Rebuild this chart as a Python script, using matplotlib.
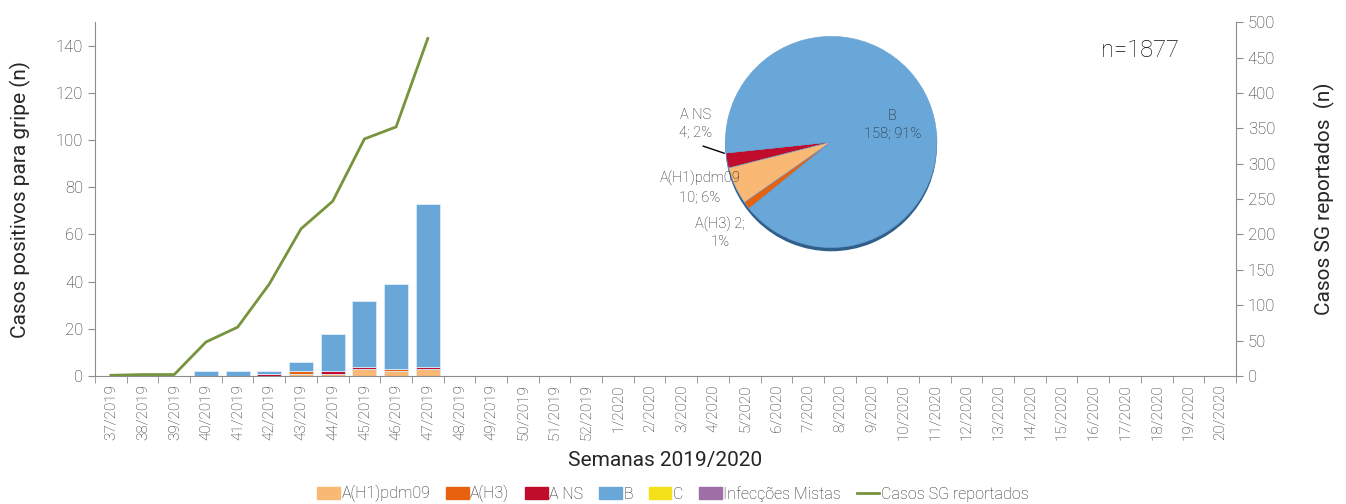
import matplotlib
matplotlib.use('Agg')
import matplotlib.pyplot as plt
from matplotlib.patches import Patch
from matplotlib.lines import Line2D
import numpy as np

plt.rcParams['font.family'] = ['Roboto', 'DejaVu Sans']
plt.rcParams['font.weight'] = 'light'

# --- data ---
semanas = [f'{w}/2019' for w in range(37, 53)] + [f'{w}/2020' for w in range(1, 21)]
ah1 = [0, 0, 0, 0, 0, 0, 1, 1, 3, 2, 3]
ah3 = [0, 0, 0, 0, 0, 0, 1, 0, 0, 1, 0]
ans = [0, 0, 0, 0, 0, 1, 0, 1, 1, 0, 1]
b   = [0, 0, 0, 2, 2, 1, 4, 16, 28, 36, 69]
c   = [0] * 11
mistas = [0] * 11
casos_sg = [1, 2, 2, 48, 69, 130, 208, 247, 335, 352, 477]

pie_labels = ['A NS', 'A(H1)pdm09', 'A(H3)', 'B']
pie_vals = [4, 10, 2, 158]
n_total = 1877

col_ah1 = '#F9B873'
col_ah3 = '#E8610F'
col_ans = '#C00D2B'
col_b = '#69A7D8'
col_c = '#F2E11B'
col_mix = '#9E6FA6'
col_line = '#77933C'
grey = '#8C8C8C'
txt = '#262626'

fig = plt.figure(figsize=(13.46, 5.04), dpi=100)
ax = fig.add_axes([0.0706, 0.254, 0.8476, 0.702])

n = len(ah1)
x = np.arange(n)
bottom = np.zeros(n)
for vals, col in [(ah1, col_ah1), (ah3, col_ah3), (ans, col_ans), (b, col_b), (c, col_c), (mistas, col_mix)]:
    v = np.array(vals, dtype=float)
    ax.bar(x, v, 0.76, bottom=bottom, color=col, edgecolor='#DCEAF5', linewidth=0.6, zorder=2)
    bottom += v

ax.set_xlim(-0.5, len(semanas) - 0.5)
ax.set_ylim(0, 150)
ax.set_yticks(range(0, 141, 20))
ax.set_xticks(np.arange(len(semanas)))
ax.set_xticklabels(semanas, rotation=90, fontsize=11, color=txt)
ax.set_xticks(np.arange(-0.5, len(semanas)), minor=True)
ax.tick_params(axis='x', which='major', length=0, pad=6)
ax.tick_params(axis='x', which='minor', length=5, color=grey)
ax.tick_params(axis='y', labelsize=12, colors=txt, length=5, color=grey)
for s in ['top', 'right']:
    ax.spines[s].set_visible(False)
for s in ['left', 'bottom']:
    ax.spines[s].set_color(grey)
ax.set_ylabel('Casos positivos para gripe (n)', fontsize=15, color=txt, labelpad=18)
ax.set_xlabel('Semanas 2019/2020', fontsize=15, color=txt, labelpad=8)

ax2 = ax.twinx()
ax2.plot(x, casos_sg, color=col_line, linewidth=2, zorder=3)
ax2.set_ylim(0, 500)
ax2.set_yticks(range(0, 501, 50))
ax2.tick_params(axis='y', labelsize=12, colors=txt, length=5, color=grey)
for s in ['top', 'left', 'bottom']:
    ax2.spines[s].set_visible(False)
ax2.spines['right'].set_color(grey)
ax2.set_ylabel('Casos SG reportados  (n)', fontsize=15, color=txt, labelpad=28)

fig.text(0.847, 0.9, f'n={n_total}', fontsize=17, color='#111111', ha='center', va='center')

# pie inset
pax = fig.add_axes([0.535, 0.492, 0.1650, 0.4400])
pax.pie([sum(pie_vals)], colors=['#2F5F8A'], radius=1.0, center=(0, -0.035),
        wedgeprops=dict(linewidth=0))
pax.pie(pie_vals, colors=[col_ans, col_ah1, col_ah3, col_b], startangle=186,
        counterclock=True, radius=1.0, wedgeprops=dict(linewidth=0.4, edgecolor='#6AA0CF'))
pax.set_aspect('auto')
pax.set_xlim(-1.05, 1.05)
pax.set_ylim(-1.08, 1.02)

lbl = '#1E1E1E'
fig.text(0.663, 0.753, 'B\n158; 91%', fontsize=10.5, color=lbl, ha='center', va='center',
         linespacing=1.3)
fig.text(0.5165, 0.755, 'A NS\n4; 2%', fontsize=10.5, color=lbl, ha='center', va='center',
         linespacing=1.3)
fig.text(0.520, 0.628, 'A(H1)pdm09\n10; 6%', fontsize=10.5, color=lbl, ha='center', va='center',
         linespacing=1.3)
fig.text(0.535, 0.538, 'A(H3) 2;\n1%', fontsize=10.5, color=lbl, ha='center', va='center',
         linespacing=1.3)
fig.add_artist(Line2D([0.5225, 0.538], [0.710, 0.696], color='black', linewidth=1,
                      transform=fig.transFigure))

handles = [Patch(color=col_ah1, label='A(H1)pdm09'), Patch(color=col_ah3, label='A(H3)'),
           Patch(color=col_ans, label='A NS'), Patch(color=col_b, label='B'),
           Patch(color=col_c, label='C'), Patch(color=col_mix, label='Infecções Mistas'),
           Line2D([], [], color=col_line, linewidth=2, label='Casos SG reportados')]
leg = fig.legend(handles=handles, loc='center', bbox_to_anchor=(0.5, 0.02), ncol=7,
                 frameon=False, fontsize=11.5, handlelength=1.4, handleheight=0.8,
                 handletextpad=0.1, columnspacing=1.0)
for t in leg.get_texts():
    t.set_color(txt)

fig.savefig('out.png', dpi=100)
